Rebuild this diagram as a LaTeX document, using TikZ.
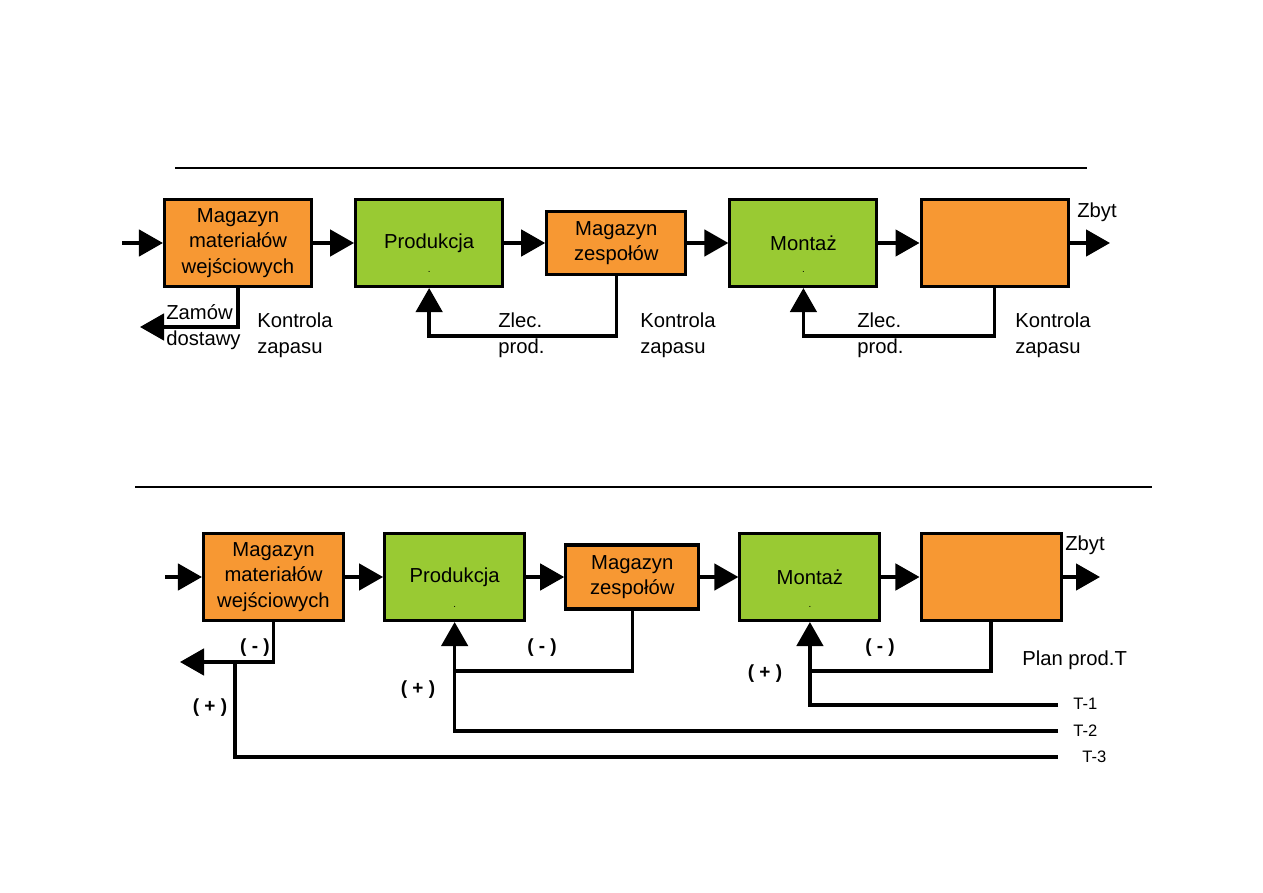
\documentclass[tikz,border=0pt]{standalone}
\usepackage{fontspec}
\setmainfont{Liberation Sans}
\usetikzlibrary{arrows.meta, positioning}

\definecolor{storeorange}{RGB}{247,152,51}
\definecolor{workgreen}{RGB}{153,202,51}

\begin{document}
\begin{tikzpicture}[
    x=0.025cm, y=-0.025cm,
    node distance=1.025cm,
    block/.style={rectangle, draw, line width=2.2pt, minimum width=3.675cm, minimum height=2.175cm, align=center, inner sep=2pt, font=\fontsize{14.4}{18}\selectfont},
    store/.style={block, fill=storeorange},
    work/.style={block, fill=workgreen},
    smallstore/.style={store, minimum width=3.475cm, minimum height=1.575cm},
    narrow/.style={minimum width=3.5cm},
    arrow/.style={-{Triangle[length=0.6cm, width=0.66cm]}, line width=2.4pt},
    wire/.style={line width=2.4pt},
    rule/.style={line width=1.4pt},
    txt/.style={anchor=west, align=left, inner sep=0pt, font=\fontsize{14.4}{18.5}\selectfont},
    sign/.style={inner sep=0pt, font=\bfseries\fontsize{13.5}{16}\selectfont},
    tlbl/.style={anchor=west, inner sep=0pt, font=\fontsize{11.8}{14}\selectfont},
    dotlbl/.style={inner sep=0pt, font=\scriptsize},
]
\useasboundingbox (0,0) rectangle (1263,893);

% upper scheme
\draw[rule] (175,168) -- (1087,168);

\node[store] (mag1) at (238,243) {Magazyn\\materiałów\\wejściowych};
\node[work] (prod1) [right=of mag1] {Produkcja};
\node[smallstore] (zesp1) [right=of prod1] {Magazyn\\zespołów};
\node[work] (mont1) [right=of zesp1] {Montaż};
\node[store] (sale1) [right=of mont1] {};
\node[dotlbl] (dotp1) at ([yshift=3.9mm]prod1.south) {.};
\node[dotlbl] (dotm1) at ([yshift=3.9mm]mont1.south) {.};

\coordinate (in1) at (122,243);
\coordinate (out1) at (1110,243);
\coordinate (order1) at (140,327);
\coordinate (loop1) at (0,336);

\draw[arrow] (in1) -- (mag1.west);
\draw[arrow] (mag1) -- (prod1);
\draw[arrow] (prod1) -- (zesp1);
\draw[arrow] (zesp1) -- (mont1);
\draw[arrow] (mont1) -- (sale1);
\draw[arrow] (sale1.east) -- (out1);

\draw[arrow] (mag1.south) |- (order1);
\draw[arrow] (zesp1.south) -- (zesp1.south |- loop1) -| (prod1.south);
\draw[arrow] (sale1.south) -- (sale1.south |- loop1) -| (mont1.south);

\node[txt] (zbyt1) at (1077,212) {Zbyt};
\node[txt] (zamow) at (166,327) {Zamów\\dostawy};
\node[txt] (ctrl1) at (257,335) {Kontrola\\zapasu};
\node[txt] (zlec1) at (498,335) {Zlec.\\prod.};
\node[txt] (ctrl2) at (640,335) {Kontrola\\zapasu};
\node[txt] (zlec2) at (857,335) {Zlec.\\prod.};
\node[txt] (ctrl3) at (1015,335) {Kontrola\\zapasu};

% lower scheme
\draw[rule] (135,487) -- (1152,487);

\node[store, narrow] (mag2) at (273.5,577) {Magazyn\\materiałów\\wejściowych};
\node[work, narrow] (prod2) [right=0.95cm of mag2] {Produkcja};
\node[smallstore, minimum width=3.325cm, minimum height=1.6cm] (zesp2) [right=0.95cm of prod2] {Magazyn\\zespołów};
\node[work, narrow] (mont2) [right=0.95cm of zesp2] {Montaż};
\node[store, narrow] (sale2) [right=0.95cm of mont2] {};
\node[dotlbl] (dotp2) at ([yshift=3.7mm]prod2.south) {.};
\node[dotlbl] (dotm2) at ([yshift=3.7mm]mont2.south) {.};

\coordinate (in2) at (165,577);
\coordinate (out2) at (1100,577);
\coordinate (order2) at (180,662);
\coordinate (split) at (235,662);
\coordinate (loop2) at (0,671);
\coordinate (t1) at (1058,705);
\coordinate (t2) at (1058,731);
\coordinate (t3) at (1058,757);

\draw[arrow] (in2) -- (mag2.west);
\draw[arrow] (mag2) -- (prod2);
\draw[arrow] (prod2) -- (zesp2);
\draw[arrow] (zesp2) -- (mont2);
\draw[arrow] (mont2) -- (sale2);
\draw[arrow] (sale2.east) -- (out2);

\draw[arrow] (mag2.south) |- (order2);
\draw[wire] (split) |- (t3);
\draw[arrow] (t2) -| (prod2.south);
\draw[arrow] (t1) -| (mont2.south);
\draw[wire] (zesp2.south) |- (prod2.south |- loop2);
\draw[wire] (sale2.south) |- (mont2.south |- loop2);

\node[txt] (zbyt2) at (1065,545) {Zbyt};
\node[sign] (minus1) at (255,648) {( - )};
\node[sign] (minus2) at (542,648) {( - )};
\node[sign] (minus3) at (880,648) {( - )};
\node[sign] (plus1) at (210,708) {( + )};
\node[sign] (plus2) at (418,690) {( + )};
\node[sign] (plus3) at (765,674) {( + )};
\node[txt] (plan) at (1022,660) {Plan prod.T};
\node[tlbl] (lt1) at (1073,704) {T-1};
\node[tlbl] (lt2) at (1073,731) {T-2};
\node[tlbl] (lt3) at (1082,757) {T-3};

\end{tikzpicture}
\end{document}
